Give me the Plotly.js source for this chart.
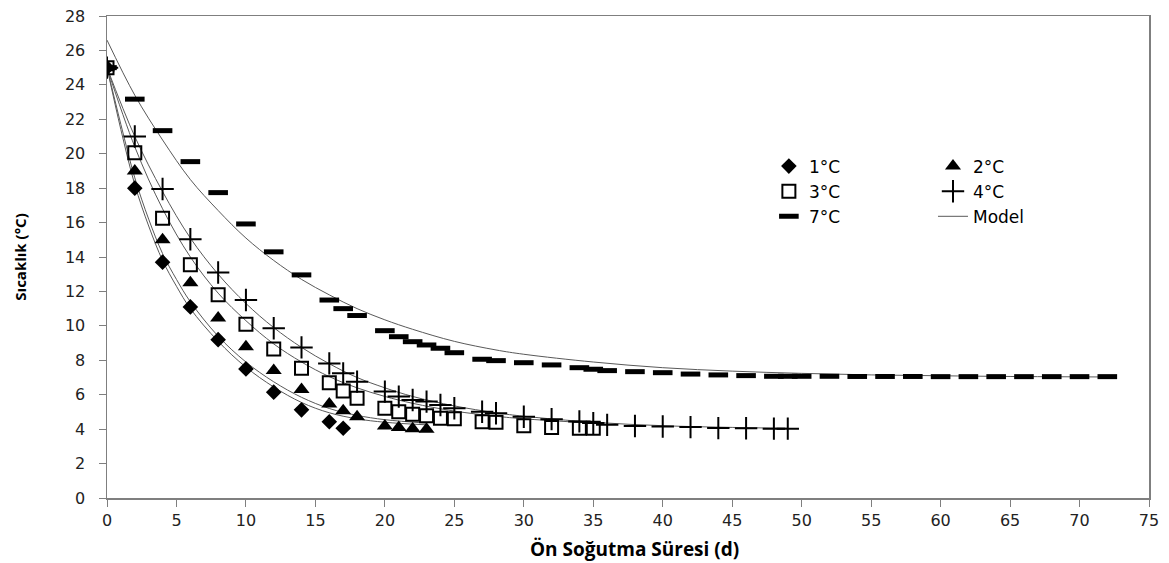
<!DOCTYPE html>
<html><head><meta charset="utf-8">
<script src="https://cdn.plot.ly/plotly-3.0.1.min.js"></script>
<style>body{margin:0;background:#fff}#c{width:1169px;height:563px}</style>
</head><body><div id="c"></div>
<script>
// observed data
const x1 = [0,2,4,6,8,10,12,14,16,17];
const y1 = [25,18.0,13.7,11.1,9.2,7.5,6.15,5.12,4.43,4.05];
const x2 = [0,2,4,6,8,10,12,14,16,17,18,20,21,22,23];
const y2 = [25,19.0,15.0,12.5,10.45,8.78,7.4,6.3,5.46,5.07,4.72,4.18,4.1,4.02,4.0];
const x3 = [0,2,4,6,8,10,12,14,16,17,18,20,21,22,23,24,25,27,28,30,32,34,35];
const y3 = [25,20.05,16.25,13.55,11.8,10.1,8.65,7.54,6.7,6.22,5.8,5.21,5.01,4.86,4.78,4.63,4.6,4.43,4.4,4.2,4.1,4.05,4.05];
const x4 = [0,2,4,6,8,10,12,14,16,17,18,20,21,22,23,24,25,27,28,30,32,34,35,36,38,40,42,44,46,48,49];
const y4 = [25,21.0,17.95,15.03,13.1,11.5,9.86,8.75,7.82,7.24,6.76,6.18,5.89,5.69,5.6,5.4,5.21,5.01,4.92,4.72,4.58,4.45,4.35,4.25,4.18,4.15,4.12,4.06,4.05,4.03,4.03];
const x7 = [0,2,4,6,8,10,12,14,16,17,18,20,21,22,23,24,25,27,28,30,32,34,35,36,38,40,42,44,46,48,49,50,52,54,56,58,60,62,64,66,68,70,72];
const y7 = [25,23.17,21.34,19.54,17.74,15.92,14.3,12.96,11.5,11.0,10.6,9.72,9.37,9.08,8.89,8.7,8.44,8.06,7.98,7.86,7.73,7.57,7.48,7.4,7.34,7.28,7.2,7.15,7.11,7.07,7.07,7.07,7.07,7.06,7.06,7.06,7.05,7.05,7.05,7.05,7.05,7.05,7.05];
// model curves
const mxA = [0,1,2,3,4,5,6,8,10,12,14,16,18,20,23];
const myA = [25,21.4,18.2,15.8,13.8,12.3,11.0,9.1,7.6,6.45,5.55,4.95,4.6,4.4,4.25];
const mxB = [0,1,2,3,4,5,6,8,10,12,14,16,18,20,23];
const myB = [25,21.7,18.6,16.2,14.2,12.7,11.4,9.4,7.9,6.75,5.85,5.2,4.8,4.55,4.35];
const mx3 = [0,2,4,6,8,10,12,14,16,18,20,22,25,28,30,35];
const my3 = [25,20.4,16.8,14.0,11.9,10.3,8.95,7.9,7.05,6.4,5.9,5.5,5.05,4.75,4.6,4.35];
const mx4 = [0,2,4,6,8,10,12,14,16,18,20,22,25,28,30,35,40,45,49];
const my4 = [25,21.0,17.8,15.1,13.0,11.3,9.9,8.75,7.8,7.0,6.4,5.9,5.35,4.95,4.75,4.4,4.2,4.1,4.05];
const mx7 = [0,2,4,6,8,10,12,14,16,18,20,22,25,28,30,35,40,45,50,55,60,65,72];
const my7 = [26.6,23.4,20.8,18.5,16.7,15.1,13.8,12.7,11.8,11.0,10.35,9.8,9.1,8.6,8.35,7.9,7.57,7.37,7.24,7.15,7.1,7.06,7.03];
const names = ['1°C','2°C','3°C','4°C','7°C','Model'];
const xTitle = 'Ön Soğutma Süresi (d)';
const yTitle = 'Sıcaklık (°C)';

const lineCol = '#595959';
function model(x,y,show){return {x:x,y:y,mode:'lines',type:'scatter',line:{color:lineCol,width:1,shape:'spline'},name:names[5],showlegend:show,legend:'legend2',legendrank:6};}
const traces = [
  model(mxA,myA,false), model(mxB,myB,false), model(mx3,my3,false), model(mx4,my4,false), model(mx7,my7,true),
  {x:x1,y:y1,mode:'markers',type:'scatter',name:names[0],legend:'legend',legendrank:1,marker:{symbol:'diamond',size:12,color:'#000'}},
  {x:x2,y:y2,mode:'markers',type:'scatter',name:names[1],legend:'legend2',legendrank:2,marker:{symbol:'triangle-up',size:14,color:'#000'}},
  {x:x3,y:y3,mode:'markers',type:'scatter',name:names[2],legend:'legend',legendrank:3,marker:{symbol:'square-open',size:13,color:'#000',line:{width:2,color:'#000'}}},
  {x:x4,y:y4,mode:'markers',type:'scatter',name:names[3],legend:'legend2',legendrank:4,marker:{symbol:'cross-thin',size:16,color:'#000',line:{width:2,color:'#000'}}},
  {x:x7,y:y7,mode:'markers',type:'scatter',name:names[4],legend:'legend',legendrank:5,marker:{symbol:'line-ew',size:14,color:'#000',line:{width:5,color:'#000'}}}
];
const axisCol = '#7f7f7f';
const legFont = {family:'DejaVu Sans',size:17,color:'#000'};
const layout = {
  width:1169,height:563,
  margin:{l:107,r:20,t:16,b:65},
  paper_bgcolor:'#fff',plot_bgcolor:'#fff',
  font:{family:'DejaVu Sans',size:16,color:'#222'},
  showlegend:true,
  legend:{orientation:'v',x:0.6352,y:0.725,xanchor:'left',yanchor:'top',font:legFont,bgcolor:'rgba(0,0,0,0)',traceorder:'normal'},
  legend2:{orientation:'v',x:0.7927,y:0.725,xanchor:'left',yanchor:'top',font:legFont,bgcolor:'rgba(0,0,0,0)',traceorder:'normal'},
  xaxis:{range:[0,75],tick0:0,dtick:5,ticks:'outside',ticklen:7,tickcolor:axisCol,showline:true,linecolor:axisCol,linewidth:1.5,mirror:true,
    showgrid:false,zeroline:false,tickfont:{family:'DejaVu Sans',size:16,color:'#222'},ticklabelstandoff:0},
  yaxis:{range:[0,28],tick0:0,dtick:2,ticks:'outside',ticklen:7,tickcolor:axisCol,showline:true,linecolor:axisCol,linewidth:1.5,mirror:true,
    showgrid:false,zeroline:false,tickfont:{family:'DejaVu Sans',size:16,color:'#222'},ticklabelstandoff:10,
    title:{text:yTitle,font:{family:'Open Sans',size:15,color:'#000',weight:'bold'},standoff:34}},
  annotations:[{text:xTitle,xref:'paper',yref:'paper',x:0.5067,y:-0.1058,xanchor:'center',yanchor:'middle',showarrow:false,
    font:{family:'Open Sans',size:19,color:'#000',weight:'bold'}}]
};
Plotly.newPlot('c',traces,layout,{displayModeBar:false,staticPlot:true});
</script></body></html>
